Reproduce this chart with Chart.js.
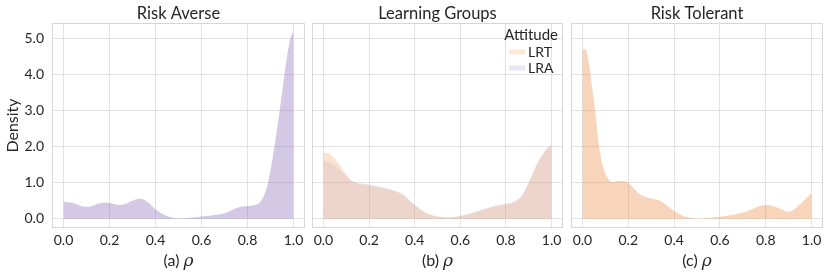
<!DOCTYPE html>
<html><head><meta charset="utf-8">
<script src="https://cdn.jsdelivr.net/npm/chart.js@4"></script>
<style>
body{margin:0;background:#fff;width:830px;height:277px;position:relative;overflow:hidden}
canvas{position:absolute;top:0}
</style></head><body>
<canvas id="p1" width="308" height="277" style="left:0"></canvas>
<canvas id="p2" width="258" height="277" style="left:308px"></canvas>
<canvas id="p3" width="264" height="277" style="left:566px"></canvas>
<script>
// ---- data ----
const xTicks = [0, 0.2, 0.4, 0.6, 0.8, 1.0];
const yTicks = [0, 1, 2, 3, 4, 5];
const titles = ["Risk Averse", "Learning Groups", "Risk Tolerant"];
const xLabels = ["(a) ", "(b) ", "(c) "];
const legendTitle = "Attitude";

const raX = [0,0.03,0.1,0.18,0.25,0.33,0.36,0.4,0.45,0.5,0.6,0.7,0.77,0.84,0.865,0.887,0.909,0.931,0.953,0.975,0.989,1.0];
const raY = [0.46,0.45,0.33,0.45,0.38,0.55,0.49,0.26,0.07,0.01,0.06,0.15,0.33,0.39,0.56,0.93,1.67,2.6,3.62,4.63,5.05,5.19];

const lgX  = [0,0.015,0.038,0.067,0.096,0.125,0.2,0.31,0.35,0.4,0.45,0.5,0.55,0.6,0.686,0.744,0.802,0.846,0.875,0.904,0.933,0.962,0.991,1.0];
const lrtY = [1.83,1.83,1.74,1.53,1.26,1.05,0.93,0.77,0.65,0.37,0.15,0.06,0.03,0.07,0.22,0.33,0.40,0.49,0.68,1.05,1.47,1.79,2.0,2.01];
const lraY = [1.61,1.60,1.53,1.39,1.21,1.05,0.95,0.79,0.68,0.39,0.16,0.06,0.03,0.07,0.23,0.35,0.42,0.51,0.70,1.07,1.49,1.81,2.01,2.02];

const rtX = [0,0.013,0.028,0.042,0.057,0.071,0.086,0.107,0.129,0.173,0.202,0.25,0.3,0.34,0.4,0.45,0.5,0.6,0.7,0.8,0.85,0.9,0.95,1.0];
const rtY = [4.70,4.70,4.31,3.66,2.92,2.09,1.53,1.16,1.02,1.05,0.98,0.68,0.56,0.49,0.21,0.05,0.0,0.05,0.16,0.38,0.31,0.19,0.4,0.71];

// ---- styling ----
const FONT = "Lato, 'Noto Sans', sans-serif";
const TXT = "#262626";
const GRID = "#e2e2e2";
const SPINE = "#d6d6d6";

function pts(xs, ys){ return xs.map((x,i)=>({x:x, y:ys[i]})); }
function ds(label, data, fill, zOrder){
  return {label, data, fill:'origin', backgroundColor:fill, borderColor:'rgba(0,0,0,0)',
    borderWidth:0, pointRadius:0, cubicInterpolationMode:'monotone', order:zOrder};
}

const textPlugin = (idx, withY, withLegend) => ({
  id:'texts'+idx,
  afterDatasetsDraw(chart){
    const ctx = chart.ctx, a = chart.chartArea;
    ctx.save();
    ctx.strokeStyle = SPINE; ctx.lineWidth = 1;
    ctx.strokeRect(Math.round(a.left)+0.5, Math.round(a.top)+0.5, Math.round(a.right-a.left)-1, Math.round(a.bottom-a.top)-1);
    const cx = (a.left+a.right)/2;
    ctx.fillStyle = TXT;
    ctx.textBaseline = 'middle';
    ctx.font = "16.5px " + FONT; ctx.textAlign = 'center';
    ctx.fillText(titles[idx], cx, 14);
    const f1 = "16px " + FONT, f2 = "italic 17px 'DejaVu Serif', serif";
    ctx.font = f1; const w1 = ctx.measureText(xLabels[idx]).width;
    ctx.font = f2; const w2 = ctx.measureText("ρ").width;
    let sx = cx - (w1+w2)/2;
    ctx.textAlign = 'left';
    ctx.font = f1; ctx.fillText(xLabels[idx], sx, 261);
    ctx.font = f2; ctx.fillText("ρ", sx+w1, 262);
    if (withY){
      ctx.save(); ctx.translate(13, (a.top+a.bottom)/2); ctx.rotate(-Math.PI/2);
      ctx.font = "16px " + FONT; ctx.textAlign = 'center';
      ctx.fillText("Density", 0, 0); ctx.restore();
    }
    if (withLegend){
      const right = a.right - 5;
      ctx.font = "15px " + FONT; ctx.textAlign = 'right';
      ctx.fillText(legendTitle, right, 35);
      const items = [["LRT", "rgb(253,233,211)", 52], ["LRA", "rgb(232,230,245)", 68]];
      ctx.font = "14px " + FONT; ctx.textAlign = 'left';
      items.forEach(([t,c,y])=>{
        ctx.fillStyle = c; ctx.fillRect(a.left+197, y-2.5, 16, 5);
        ctx.fillStyle = TXT; ctx.fillText(t, a.left+216, y);
      });
    }
    ctx.restore();
  }
});

function make(id, idx, datasets, pad, withY, withLegend){
  new Chart(document.getElementById(id), {
    type:'line',
    data:{datasets},
    options:{
      responsive:false, animation:false, devicePixelRatio:1,
      layout:{padding:{left:pad[0], right:pad[1], top:23, bottom:0}},
      plugins:{legend:{display:false}, title:{display:false}, tooltip:{enabled:false}},
      scales:{
        x:{type:'linear', min:-0.05, max:1.05,
          afterBuildTicks:s=>{ s.ticks = xTicks.map(v=>({value:v})); },
          afterFit:s=>{ s.height = 49; },
          ticks:{callback:v=>Number(v).toFixed(1), font:{family:FONT, size:14}, color:TXT, padding:4, maxRotation:0, autoSkip:false},
          grid:{color:GRID, drawTicks:false, lineWidth:1}, border:{display:false}},
        y:{type:'linear', min:-0.26, max:5.43,
          afterBuildTicks:s=>{ s.ticks = yTicks.map(v=>({value:v})); },
          afterFit:s=>{ s.width = withY ? 52 : 0; },
          ticks:{display:withY, callback:v=>Number(v).toFixed(1), font:{family:FONT, size:14}, color:TXT, padding:8},
          grid:{color:GRID, drawTicks:false, lineWidth:1}, border:{display:false}}
      }
    },
    plugins:[textPlugin(idx, withY, withLegend)]
  });
}

make('p1', 0, [ds('Risk Averse', pts(raX, raY), 'rgba(130,100,180,0.35)', 1)], [0,3], true, false);
make('p2', 1, [
  ds('LRA', pts(lgX, lraY), 'rgba(140,130,200,0.15)', 2),
  ds('LRT', pts(lgX, lrtY), 'rgba(235,150,85,0.27)', 1)
], [4,3], false, true);
make('p3', 2, [ds('Risk Tolerant', pts(rtX, rtY), 'rgba(238,148,82,0.4)', 1)], [5,7], false, false);
</script>
</body></html>
